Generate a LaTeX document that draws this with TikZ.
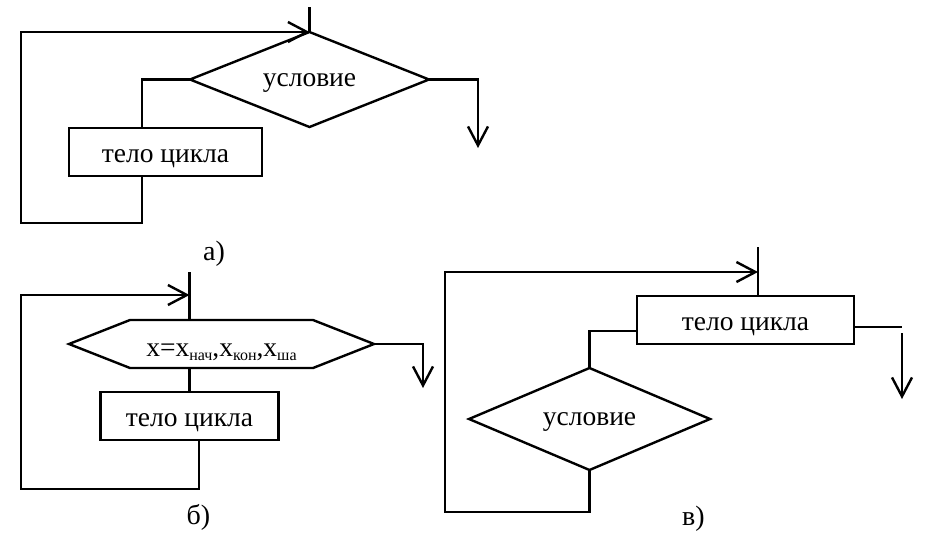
\documentclass[tikz,border=0pt]{standalone}
\usepackage{fontspec}
\setmainfont{Liberation Serif}
\usetikzlibrary{arrows.meta,shapes.geometric}

% lowered, smaller index text
\newcommand\lowtxt[1]{\raisebox{-4pt}{\fontsize{16}{16}\selectfont #1}}

\begin{document}
\begin{tikzpicture}[x=1pt,y=-1pt,
  ln/.style={line width=2.4pt, line join=miter},
  arr/.style={ln, -{Straight Barb[length=19pt,width=20pt,line width=2.4pt]}},
  body/.style={draw, line width=2.4pt, rectangle, inner sep=0pt, outer sep=0pt,
    minimum height=48pt, font=\fontsize{27.5}{32}\selectfont,
    text height=25pt, text depth=4pt},
  cond/.style={draw, line width=2.4pt, diamond, aspect=2.5, inner sep=0pt, outer sep=0pt,
    font=\fontsize{27.5}{32}\selectfont, text height=17pt, text depth=4pt},
  hexa/.style={rectangle, inner sep=0pt, outer sep=0pt,
    minimum width=305pt, minimum height=48pt, font=\fontsize{27.5}{32}\selectfont,
    text height=28pt, text depth=4pt},
  tag/.style={font=\fontsize{28}{32}\selectfont, inner sep=0pt}
]
\useasboundingbox (0,0) rectangle (925,536);

% ---------- a) pre-condition loop ----------
\node[cond, minimum width=239pt, minimum height=95pt] (dA) at (309.5,79.5) {условие};
\node[body, minimum width=193pt] (bA) at (165.5,151.7) {тело цикла};
\coordinate (inA) at (309.5,7);
\coordinate (cA) at (21,223);
\coordinate (oA) at (478,148);
\draw[ln] (inA) -- (dA.north);
\draw[ln] (dA.west) -| ([xshift=-23.5pt]bA.north);
\draw[arr] ([xshift=-23.5pt]bA.south) |- (cA) |- (dA.north);
\draw[arr] (dA.east) -| (oA);
\node[tag] (lA) at (214,254) {а)};

% ---------- b) counter loop ----------
\node[hexa] (hB) at (221.5,344) {x=x\lowtxt{нач},x\lowtxt{кон},x\lowtxt{ша}};
\draw[ln] (hB.west) -- ([xshift=61pt]hB.north west) -- ([xshift=-61pt]hB.north east)
  -- (hB.east) -- ([xshift=-61pt]hB.south east) -- ([xshift=61pt]hB.south west) -- cycle;
\node[body, minimum width=178pt] (bB) at (189.5,416) {тело цикла};
\coordinate (inB) at (189.5,272);
\coordinate (jB) at (189.5,295);
\coordinate (cB) at (21,489);
\coordinate (oB) at (423,388);
\draw[ln] (inB) -- (inB |- hB.north);
\draw[ln] (inB |- hB.south) -- (bB.north);
\draw[arr] ([xshift=9.5pt]bB.south) |- (cB) |- (jB);
\draw[arr] (hB.east) -| (oB);
\node[tag] (lB) at (198.5,517) {б)};

% ---------- c) post-condition loop ----------
\node[body, minimum width=217pt] (bC) at (745.5,320) {тело цикла};
\node[cond, minimum width=241pt, minimum height=102pt] (dC) at (589.5,419) {условие};
\coordinate (inC) at (758,247);
\coordinate (jC) at (758,272);
\coordinate (cC) at (445,512);
\coordinate (eC) at (902,327);
\coordinate (fC) at (902,333);
\coordinate (oC) at (902,399);
\draw[ln] (inC) -- (inC |- bC.north);
\draw[ln] ([yshift=-11pt]bC.west) -| (dC.north);
\draw[arr] (dC.south) |- (cC) |- (jC);
\draw[ln] ([yshift=-7pt]bC.east) -- (eC);
\draw[arr] (fC) -- (oC);
\node[tag] (lC) at (693.5,519) {в)};
\end{tikzpicture}
\end{document}
